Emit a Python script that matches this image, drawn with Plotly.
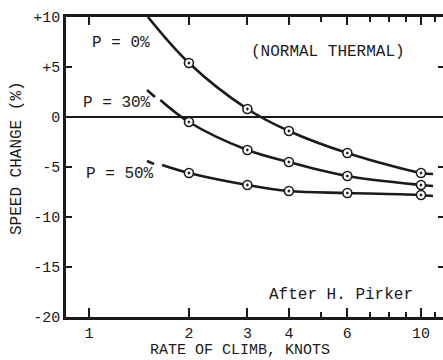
import plotly.graph_objects as go
import numpy as np

# ---- data ----
climb = [2, 3, 4, 6, 10]
p0 = [5.4, 0.8, -1.4, -3.6, -5.6]
p30 = [-0.5, -3.3, -4.5, -5.9, -6.8]
p50 = [-5.6, -6.8, -7.4, -7.6, -7.8]

# curve extents (start / end of drawn curves)
p0_start = (1.505, 10.0)
p0_end = (10.87, -5.7)
p30_dash = ([1.495, 1.58], [2.7, 2.0])
p30_start = (1.64, 1.7)
p30_end = (10.87, -6.9)
p50_dash = ([1.495, 1.57], [-4.4, -4.7])
p50_start = (1.66, -4.8)
p50_end = (10.87, -7.9)

ytick_vals = [10, 5, 0, -5, -10, -15, -20]
ytick_text = ["+10", "+5", "0", "-5", "-10", "-15", "-20"]
xmajor = [1, 2, 3, 4, 6, 10]
xminor = [5, 7, 8, 9, 11]

INK = "#1a1a1a"
FONT = "Liberation Mono, Courier New, monospace"

W, H = 443, 360
L, R, T, B = 66, 0, 17, 43
pw, ph = W - L - R, H - T - B

fig = go.Figure()

def curve(start, ys, end):
    xs = [start[0]] + climb + [end[0]]
    yy = [start[1]] + ys + [end[1]]
    fig.add_trace(go.Scatter(x=xs, y=yy, mode="lines",
                             line=dict(color=INK, width=2.6, shape="spline", smoothing=1.0),
                             hoverinfo="skip", showlegend=False))

curve(p0_start, p0, p0_end)
curve(p30_start, p30, p30_end)
curve(p50_start, p50, p50_end)

for dx, dy in (p30_dash, p50_dash):
    fig.add_trace(go.Scatter(x=dx, y=dy, mode="lines",
                             line=dict(color=INK, width=2.6),
                             hoverinfo="skip", showlegend=False))

for ys in (p0, p30, p50):
    fig.add_trace(go.Scatter(x=climb, y=ys, mode="markers",
                             marker=dict(symbol="circle-dot", size=9, color="white",
                                         line=dict(color=INK, width=1.6)),
                             showlegend=False))

# ghost traces to activate top/right axes
fig.add_trace(go.Scatter(x=[2], y=[0], xaxis="x2", yaxis="y", mode="markers",
                         marker=dict(opacity=0), showlegend=False, hoverinfo="skip"))
fig.add_trace(go.Scatter(x=[2], y=[0], xaxis="x", yaxis="y2", mode="markers",
                         marker=dict(opacity=0), showlegend=False, hoverinfo="skip"))

xr = [np.log10(1) - 23 / 332, np.log10(1) + 353 / 332 + 1 / 332]

fig.update_layout(
    width=W, height=H,
    margin=dict(l=L, r=R, t=T, b=B),
    paper_bgcolor="white", plot_bgcolor="white",
    font=dict(family=FONT, size=16, color=INK),
    xaxis=dict(type="log", range=xr, showgrid=False, zeroline=False,
               showline=True, linecolor=INK, linewidth=2.5,
               ticks="inside", ticklen=9, tickwidth=2, tickcolor=INK,
               tickvals=xmajor, ticktext=[str(v) for v in xmajor],
               tickfont=dict(size=15),
               minor=dict(tickvals=xminor, ticks="inside", ticklen=5, tickwidth=2, tickcolor=INK, showgrid=False)),
    xaxis2=dict(type="log", range=xr, overlaying="x", side="top", anchor="y",
                showgrid=False, zeroline=False, showline=True, linecolor=INK, linewidth=2.5,
                ticks="inside", ticklen=8, tickwidth=2, tickcolor=INK,
                tickvals=xmajor, showticklabels=False,
                minor=dict(tickvals=xminor, ticks="inside", ticklen=5, tickwidth=2, tickcolor=INK, showgrid=False)),
    yaxis=dict(range=[-20, 10], showgrid=False,
               zeroline=True, zerolinecolor=INK, zerolinewidth=2,
               showline=True, linecolor=INK, linewidth=2.5,
               ticks="inside", ticklen=6, tickwidth=2, tickcolor=INK,
               tickvals=ytick_vals, ticktext=ytick_text, tickfont=dict(size=15)),
    yaxis2=dict(range=[-20, 10], overlaying="y", side="right", anchor="x",
                showgrid=False, zeroline=False, showline=False,
                ticks="inside", ticklen=5, tickwidth=2, tickcolor=INK,
                tickvals=ytick_vals, showticklabels=False),
)

def px2paper(px, py):
    return (px - L) / pw, (H - B - py) / ph

def note(text, px, py, angle=0, size=16):
    x, y = px2paper(px, py)
    fig.add_annotation(text=text, x=x, y=y, xref="paper", yref="paper",
                       showarrow=False, textangle=angle,
                       font=dict(family=FONT, size=size, color=INK),
                       xanchor="center", yanchor="middle")

note("P = 0%", 121, 43)
note("P = 30%", 117, 103)
note("P = 50%", 120, 174)
note("(NORMAL THERMAL)", 328, 52)
note("After H. Pirker", 341, 295)
note("RATE OF CLIMB, KNOTS", 240, 350, size=15)
note("SPEED CHANGE (%)", 17, 158, angle=-90)

fig.write_html("out.html")
